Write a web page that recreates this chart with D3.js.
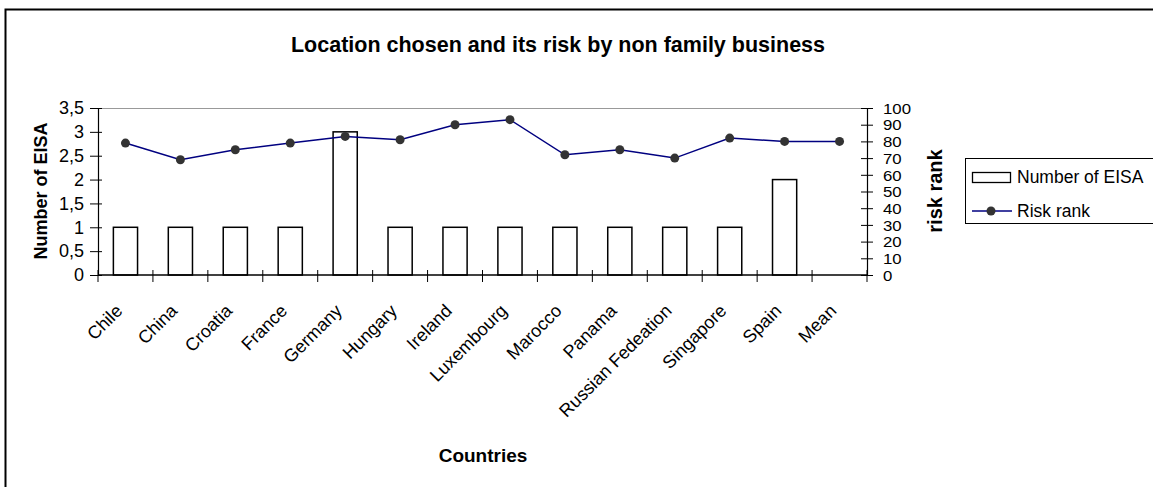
<!DOCTYPE html>
<html>
<head>
<meta charset="utf-8">
<script src="https://cdn.jsdelivr.net/npm/d3@7"></script>
<style>
  html, body { margin: 0; padding: 0; background: #fff; }
  svg { display: block; font-family: "Liberation Sans", Arial, sans-serif; }
</style>
</head>
<body>
<svg id="chart" width="1153" height="487"></svg>
<script>
// Countries on the category axis
const countries = ["Chile", "China", "Croatia", "France", "Germany", "Hungary", "Ireland",
  "Luxembourg", "Marocco", "Panama", "Russian Fedeation", "Singapore", "Spain", "Mean"];
// Number of EISA per country (bars, left axis); Mean has no bar
const eisaCounts = [1, 1, 1, 1, 3, 1, 1, 1, 1, 1, 1, 1, 2, null];
// Risk rank per country (line, right axis)
const riskRanks = [79, 69, 75, 79, 83, 81, 90, 93, 72, 75, 70, 82, 80, 80];
// Tick labels
const leftTicks = [0, 0.5, 1, 1.5, 2, 2.5, 3, 3.5];
const rightTicks = [0, 10, 20, 30, 40, 50, 60, 70, 80, 90, 100];

const svg = d3.select("#chart");
const plot = { left: 98, right: 867, top: 108, bottom: 275 };

// Outer chart frame
svg.append("rect")
  .attr("x", 5.5).attr("y", 9.5).attr("width", 1160).attr("height", 500)
  .attr("fill", "none").attr("stroke", "#000").attr("stroke-width", 2);

const x = d3.scaleBand().domain(countries).range([plot.left, plot.right]);
const yLeft = d3.scaleLinear().domain([0, 3.5]).range([plot.bottom, plot.top]);
const yRight = d3.scaleLinear().domain([0, 100]).range([plot.bottom, plot.top]);

// Top border of the plot area
svg.append("line")
  .attr("x1", plot.left).attr("x2", plot.right)
  .attr("y1", plot.top + 0.5).attr("y2", plot.top + 0.5)
  .attr("stroke", "#999").attr("stroke-width", 1);

// Bars
const barW = x.bandwidth() * 0.44;
svg.append("g").selectAll("rect")
  .data(countries.map((c, i) => ({ c, v: eisaCounts[i] })).filter(d => d.v != null))
  .join("rect")
  .attr("x", d => x(d.c) + (x.bandwidth() - barW) / 2)
  .attr("y", d => yLeft(d.v))
  .attr("width", barW)
  .attr("height", d => yLeft(0) - yLeft(d.v))
  .attr("fill", "#fff").attr("stroke", "#000").attr("stroke-width", 1.5);

// Risk rank line and markers
const riskData = countries.map((c, i) => ({ c, v: riskRanks[i] }));
svg.append("path")
  .datum(riskData)
  .attr("fill", "none").attr("stroke", "#000080").attr("stroke-width", 1.5)
  .attr("d", d3.line().x(d => x(d.c) + x.bandwidth() / 2).y(d => yRight(d.v)));
svg.append("g").selectAll("circle")
  .data(riskData).join("circle")
  .attr("cx", d => x(d.c) + x.bandwidth() / 2)
  .attr("cy", d => yRight(d.v))
  .attr("r", 4.5).attr("fill", "#333");

// Left axis
const leftAxis = svg.append("g").attr("transform", `translate(${plot.left},0)`)
  .call(d3.axisLeft(yLeft).tickValues(leftTicks).tickSize(8).tickPadding(6)
    .tickFormat(d => String(d).replace(".", ",")));
leftAxis.select(".domain").attr("stroke", "#000").attr("stroke-width", 1.2);
leftAxis.selectAll(".tick line").attr("stroke", "#000").attr("x2", -8).attr("x1", 4);
leftAxis.selectAll(".tick text").attr("font-size", 18).attr("fill", "#000")
  .attr("font-family", "Liberation Sans, Arial, sans-serif");

// Right axis: tall, tightly stacked labels
const rightAxis = svg.append("g").attr("transform", `translate(${plot.right},0)`)
  .call(d3.axisRight(yRight).tickValues(rightTicks).tickSize(6).tickPadding(10));
rightAxis.select(".domain").attr("stroke", "#000").attr("stroke-width", 1.2);
rightAxis.selectAll(".tick line").attr("stroke", "#000").attr("x1", -6).attr("x2", 6);
rightAxis.selectAll(".tick text")
  .attr("x", null).attr("dy", null)
  .attr("font-size", 16).attr("fill", "#000")
  .attr("font-family", "Liberation Sans, Arial, sans-serif")
  .attr("transform", "translate(16,5.2) scale(1.05,0.88)");

// Category axis with boundary ticks between categories
const bottomAxis = svg.append("g");
bottomAxis.append("line")
  .attr("x1", plot.left).attr("x2", plot.right)
  .attr("y1", plot.bottom).attr("y2", plot.bottom)
  .attr("stroke", "#000").attr("stroke-width", 1.5);
const boundaries = countries.map(c => x(c)).concat([plot.right]);
bottomAxis.selectAll("line.tick").data(boundaries).join("line")
  .attr("class", "tick")
  .attr("x1", d => d).attr("x2", d => d)
  .attr("y1", plot.bottom - 5).attr("y2", plot.bottom + 7)
  .attr("stroke", "#000").attr("stroke-width", 1);
bottomAxis.selectAll("text").data(countries).join("text")
  .attr("transform", d => `translate(${x(d) + x.bandwidth() / 2 - 2},${plot.bottom + 37}) rotate(-45)`)
  .attr("text-anchor", "end")
  .attr("font-size", 18).attr("fill", "#000")
  .text(d => d);

// Titles
svg.append("text")
  .attr("x", 558).attr("y", 52).attr("text-anchor", "middle")
  .attr("font-size", 21.5).attr("font-weight", "bold")
  .text("Location chosen and its risk by non family business");
svg.append("text")
  .attr("transform", `translate(47,191) rotate(-90)`)
  .attr("text-anchor", "middle").attr("font-size", 18).attr("font-weight", "bold")
  .text("Number of EISA");
svg.append("text")
  .attr("transform", `translate(942,191) rotate(-90)`)
  .attr("text-anchor", "middle").attr("font-size", 20).attr("font-weight", "bold")
  .text("risk rank");
svg.append("text")
  .attr("x", 483).attr("y", 462).attr("text-anchor", "middle")
  .attr("font-size", 19).attr("font-weight", "bold")
  .text("Countries");

// Legend
const legend = svg.append("g");
legend.append("rect")
  .attr("x", 965.5).attr("y", 158.5).attr("width", 200).attr("height", 65)
  .attr("fill", "#fff").attr("stroke", "#000").attr("stroke-width", 1);
legend.append("rect")
  .attr("x", 972.5).attr("y", 172.5).attr("width", 38).attr("height", 10)
  .attr("fill", "#fff").attr("stroke", "#000").attr("stroke-width", 1.3);
legend.append("text").attr("x", 1017).attr("y", 183)
  .attr("font-size", 17.5).text("Number of EISA");
legend.append("line")
  .attr("x1", 972).attr("x2", 1012).attr("y1", 211).attr("y2", 211)
  .attr("stroke", "#000080").attr("stroke-width", 1.5);
legend.append("circle").attr("cx", 991).attr("cy", 211).attr("r", 4.5).attr("fill", "#333");
legend.append("text").attr("x", 1017).attr("y", 217)
  .attr("font-size", 17.5).text("Risk rank");
</script>
</body>
</html>
